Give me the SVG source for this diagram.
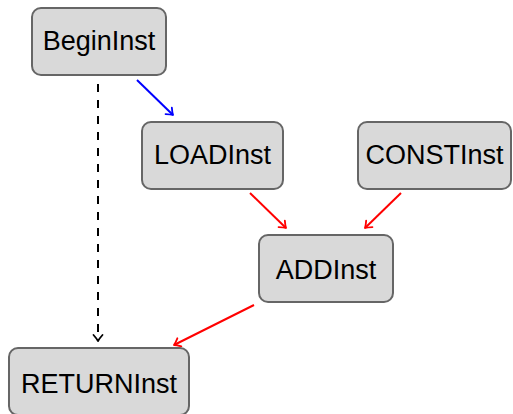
<svg xmlns="http://www.w3.org/2000/svg" width="513" height="414" viewBox="0 0 513 414">
  <style>
    .box { fill: #d9d9d9; stroke: #666666; stroke-width: 2; }
    .lbl { font-family: "Liberation Sans", "DejaVu Sans", sans-serif; font-size: 27px; fill: #000; text-anchor: middle; }
    .edge { fill: none; stroke-width: 2; }
    .tip { fill: none; stroke-width: 1.8; stroke-linecap: round; stroke-linejoin: round; }
  </style>
  <defs>
    <marker id="tip-blue" viewBox="-8 -6 10 12" refX="0" refY="0" markerWidth="10" markerHeight="12" markerUnits="userSpaceOnUse" orient="auto">
      <path class="tip" stroke="#0000ff" d="M-6,-4.5 Q-2,-1 0,0 Q-2,1 -6,4.5"/>
    </marker>
    <marker id="tip-red" viewBox="-8 -6 10 12" refX="0" refY="0" markerWidth="10" markerHeight="12" markerUnits="userSpaceOnUse" orient="auto">
      <path class="tip" stroke="#ff0000" d="M-6,-4.5 Q-2,-1 0,0 Q-2,1 -6,4.5"/>
    </marker>
    <marker id="tip-black" viewBox="-8 -6 10 12" refX="0" refY="0" markerWidth="10" markerHeight="12" markerUnits="userSpaceOnUse" orient="auto">
      <path class="tip" stroke="#000000" d="M-6,-4.5 Q-2,-1 0,0 Q-2,1 -6,4.5"/>
    </marker>
  </defs>

  <g id="connectors">
    <line class="edge" stroke="#0000ff" x1="137" y1="80" x2="173" y2="115" marker-end="url(#tip-blue)"/>
    <line class="edge" stroke="#000000" stroke-dasharray="8,8" x1="98" y1="84" x2="98" y2="341" marker-end="url(#tip-black)"/>
    <line class="edge" stroke="#ff0000" x1="250" y1="193" x2="286" y2="228" marker-end="url(#tip-red)"/>
    <line class="edge" stroke="#ff0000" x1="401" y1="193" x2="365" y2="228" marker-end="url(#tip-red)"/>
    <line class="edge" stroke="#ff0000" x1="254" y1="305" x2="174" y2="345" marker-end="url(#tip-red)"/>
  </g>

  <g id="BeginInst">
    <rect class="box" x="32" y="8" width="134" height="67" rx="9"/>
    <text class="lbl" x="99" y="50">BeginInst</text>
  </g>
  <g id="LOADInst">
    <rect class="box" x="142" y="122" width="141" height="67" rx="9"/>
    <text class="lbl" x="212.5" y="164">LOADInst</text>
  </g>
  <g id="CONSTInst">
    <rect class="box" x="358" y="122" width="153" height="67" rx="9"/>
    <text class="lbl" x="434.5" y="164">CONSTInst</text>
  </g>
  <g id="ADDInst">
    <rect class="box" x="259" y="235" width="134" height="67" rx="9"/>
    <text class="lbl" x="326" y="279">ADDInst</text>
  </g>
  <g id="RETURNInst">
    <rect class="box" x="9" y="348" width="180" height="67" rx="9"/>
    <text class="lbl" x="99" y="393">RETURNInst</text>
  </g>
</svg>
